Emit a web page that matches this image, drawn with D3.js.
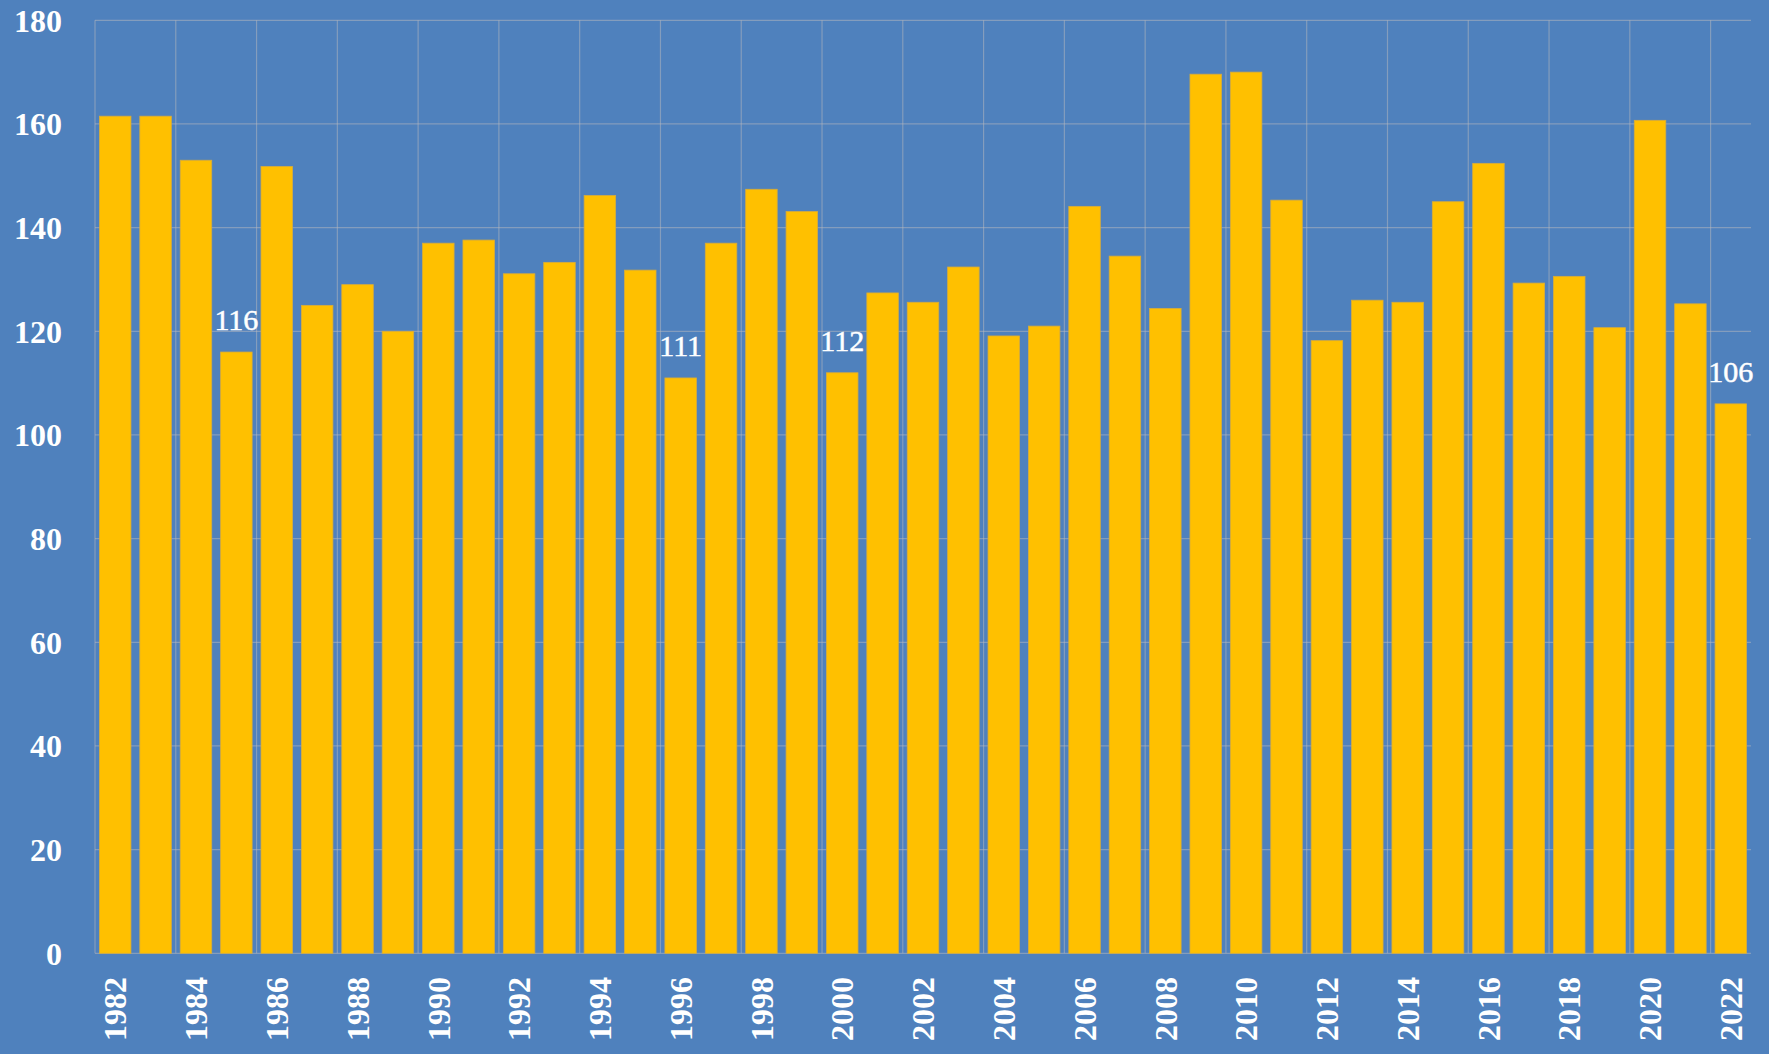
<!DOCTYPE html>
<html>
<head>
<meta charset="utf-8">
<script src="https://cdn.jsdelivr.net/npm/d3@7"></script>
<style>
  body { margin: 0; background: #4f81bd; }
  svg { display: block; }
</style>
</head>
<body>
<svg id="chart" width="1769" height="1054"></svg>
<script>
// Data
const years = [
  "1982", "1983", "1984", "1985", "1986", "1987", "1988", "1989", "1990", "1991",
  "1992", "1993", "1994", "1995", "1996", "1997", "1998", "1999", "2000", "2001",
  "2002", "2003", "2004", "2005", "2006", "2007", "2008", "2009", "2010", "2011",
  "2012", "2013", "2014", "2015", "2016", "2017", "2018", "2019", "2020", "2021",
  "2022"
];
const values = [
  161.5, 161.5, 153, 116, 151.8, 125, 129, 120, 137, 137.6,
  131.1, 133.3, 146.2, 131.8, 111, 137, 147.4, 143.1, 112, 127.4,
  125.6, 132.4, 119.1, 121, 144.1, 134.5, 124.4, 169.6, 170, 145.3,
  118.2, 126, 125.6, 145, 152.4, 129.3, 130.6, 120.7, 160.7, 125.3,
  106
];
const labelledYears = ["1985", "1996", "2000", "2022"];
const yTicks = [0, 20, 40, 60, 80, 100, 120, 140, 160, 180];

const data = years.map((y, i) => ({ year: y, value: values[i] }));

//The svg
const svg = d3.select("#chart"),
  width = +svg.attr("width"),
  height = +svg.attr("height");

const plotLeft = 95,
  plotRight = 1751,
  plotTop = 20.3,
  plotBottom = 953.3;

const fontFamily = "'Liberation Serif', 'Times New Roman', serif";

// background
svg
  .append("rect")
  .attr("width", width)
  .attr("height", height)
  .attr("fill", "#4f81bd");

// Scales
const x = d3
  .scaleBand()
  .domain(years)
  .range([plotLeft, plotRight])
  .paddingInner(0.22)
  .paddingOuter(0.11);

const y = d3.scaleLinear().domain([0, 180]).range([plotBottom, plotTop]);

const gridColor = "rgba(185, 185, 190, 0.5)";

// horizontal gridlines
svg
  .append("g")
  .selectAll("line")
  .data(yTicks)
  .join("line")
  .attr("x1", plotLeft)
  .attr("x2", plotRight)
  .attr("y1", (d) => y(d))
  .attr("y2", (d) => y(d))
  .attr("stroke", gridColor)
  .attr("stroke-width", 1.2);

// vertical gridlines, one every two years (before each labelled year)
const evenYears = years.filter((d, i) => i % 2 === 0);
svg
  .append("g")
  .selectAll("line")
  .data(evenYears)
  .join("line")
  .attr("x1", (d) => x(d) - (x.step() * x.paddingInner()) / 2)
  .attr("x2", (d) => x(d) - (x.step() * x.paddingInner()) / 2)
  .attr("y1", plotTop)
  .attr("y2", plotBottom)
  .attr("stroke", gridColor)
  .attr("stroke-width", 1.2);

// bars
svg
  .append("g")
  .selectAll("rect")
  .data(data)
  .join("rect")
  .attr("x", (d) => x(d.year))
  .attr("width", x.bandwidth())
  .attr("y", (d) => y(d.value))
  .attr("height", (d) => y(0) - y(d.value))
  .attr("fill", "#ffc000")
  .attr("stroke", "#d8ac3a")
  .attr("stroke-width", 0.8);

// value labels on a few bars
svg
  .append("g")
  .selectAll("text")
  .data(data.filter((d) => labelledYears.includes(d.year)))
  .join("text")
  .attr("x", (d) => x(d.year) + x.bandwidth() / 2)
  .attr("y", (d) => y(d.value) - 22)
  .attr("text-anchor", "middle")
  .style("font-family", fontFamily)
  .style("font-size", "30px")
  .style("fill", "white")
  .style("stroke", "white")
  .style("stroke-width", 0.5)
  .text((d) => d3.format("d")(d.value));

// y axis labels
svg
  .append("g")
  .selectAll("text")
  .data(yTicks)
  .join("text")
  .attr("x", 62)
  .attr("y", (d) => y(d))
  .attr("dy", "0.35em")
  .attr("text-anchor", "end")
  .style("font-family", fontFamily)
  .style("font-weight", "bold")
  .style("font-size", "32px")
  .style("fill", "white")
  .text((d) => d);

// x axis labels, rotated
svg
  .append("g")
  .selectAll("text")
  .data(evenYears)
  .join("text")
  .attr(
    "transform",
    (d) => `translate(${x(d) + x.bandwidth() / 2},977) rotate(-90)`
  )
  .attr("dy", "0.35em")
  .attr("text-anchor", "end")
  .style("font-family", fontFamily)
  .style("font-weight", "bold")
  .style("font-size", "32px")
  .style("fill", "white")
  .text((d) => d);
</script>
</body>
</html>
